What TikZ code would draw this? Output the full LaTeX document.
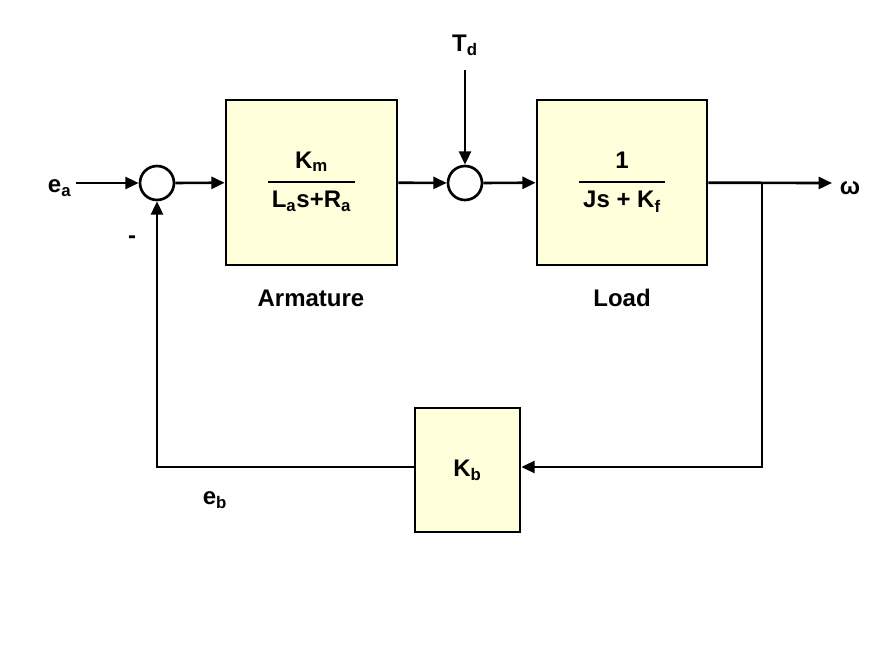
\documentclass[tikz,border=0pt]{standalone}
\usepackage{fontspec}
\setmainfont{Liberation Sans}
\usetikzlibrary{arrows.meta,positioning}
\definecolor{boxfill}{RGB}{255,255,220}
\newlength\pxu
\setlength\pxu{0.75pt}
\newcommand\tfrac[2]{\setlength\arrayrulewidth{1.5pt}\begin{tabular}{@{\,}c@{\,}}#1\\[3pt]\hline\rule{0pt}{19pt}#2\end{tabular}}
\tikzset{
  blk/.style={draw,line width=2pt,fill=boxfill,inner sep=0pt},
  sumj/.style={draw,circle,line width=2pt,minimum size=34\pxu,inner sep=0pt},
  sig/.style={line width=2pt,-{Triangle[length=10pt,width=9pt]}},
  lbl/.style={font=\bfseries\fontsize{18}{21}\selectfont}
}
\begin{document}
\begin{tikzpicture}[x=0.75pt,y=-0.75pt]
\useasboundingbox (0,0) rectangle (896,646);

% blocks
\node[blk,minimum width=171\pxu,minimum height=165\pxu] (arm) at (311.5,182.5) {};
\node[blk,minimum width=170\pxu,minimum height=165\pxu] (load) at (622,182.5) {};
\node[blk,minimum width=105\pxu,minimum height=124\pxu] (kb) at (467.5,470) {};
\node[sumj] (s1) at (157,183) {};
\node[sumj] (s2) at (465,183) {};

% transfer functions
\node[lbl] (armtf) at (arm) {\tfrac{K\textsubscript{m}}{L\textsubscript{a}s+R\textsubscript{a}}};
\node[lbl] (loadtf) at (load) {\tfrac{1}{Js + K\textsubscript{f}}};
\node[lbl] (kbtf) at (kb) {K\textsubscript{b}};
\node[lbl] (armname) at (311,298) {Armature};
\node[lbl] (loadname) at (622,298) {Load};

% signals
\node[lbl,anchor=east] (ea) at (76,188) {e\textsubscript{a}};
\node[lbl] (td) at (465,45) {T\textsubscript{d}};
\node[lbl] (om) at (850,188) {ω};
\node[lbl] (minus) at (132,240) {-};
\node[lbl] (eb) at (215,500) {e\textsubscript{b}};
\coordinate (tdtop) at (465,70);
\coordinate (out) at (832,183);
\coordinate (br) at (762,183);
\coordinate (brlow) at (762,467);
\coordinate (fbl) at (157,467);

\draw[sig] (ea.east |- s1) -- (s1);
\draw[sig] (s1) -- (arm);
\draw[sig] (arm) -- (s2);
\draw[sig] (tdtop) -- (s2);
\draw[sig] (s2) -- (load);
\draw[sig] (load) -- (out);
\draw[sig] (br) -- (brlow) -- (kb.east |- brlow);
\draw[sig] (kb.west |- fbl) -- (fbl) -- (s1);
\end{tikzpicture}
\end{document}
